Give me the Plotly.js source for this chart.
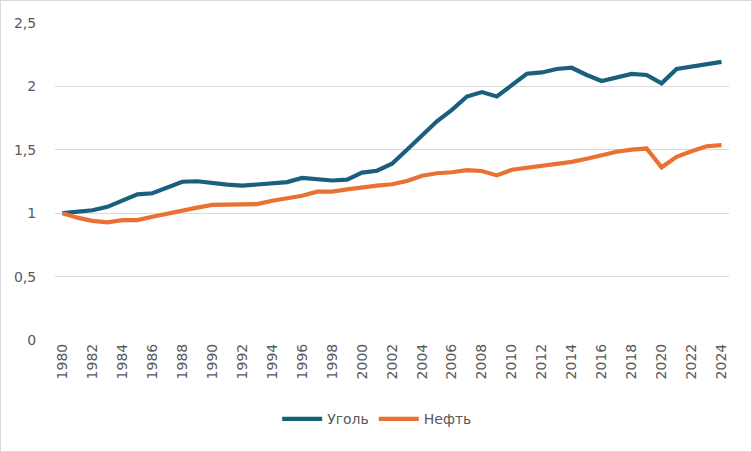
<!DOCTYPE html>
<html>
<head>
<meta charset="utf-8">
<script src="https://cdn.plot.ly/plotly-3.0.1.min.js"></script>
<style>
html,body{margin:0;padding:0;background:#fff;}
#chart{width:750px;height:450px;border:1px solid #d9d9d9;}
</style>
</head>
<body>
<div id="chart"></div>
<script>
const years = [1980,1981,1982,1983,1984,1985,1986,1987,1988,1989,1990,1991,1992,1993,1994,1995,1996,1997,1998,1999,2000,2001,2002,2003,2004,2005,2006,2007,2008,2009,2010,2011,2012,2013,2014,2015,2016,2017,2018,2019,2020,2021,2022,2023,2024];
const coal = [1.0,1.015,1.023,1.05,1.098,1.149,1.157,1.204,1.248,1.252,1.235,1.225,1.217,1.228,1.238,1.245,1.278,1.27,1.258,1.265,1.32,1.335,1.39,1.5,1.61,1.725,1.815,1.92,1.955,1.92,2.01,2.1,2.11,2.137,2.147,2.09,2.043,2.07,2.098,2.09,2.024,2.137,2.155,2.172,2.193];
const oil = [1.0,0.965,0.94,0.928,0.946,0.946,0.972,0.998,1.025,1.044,1.065,1.068,1.07,1.072,1.098,1.115,1.138,1.17,1.17,1.188,1.205,1.218,1.228,1.254,1.295,1.315,1.323,1.34,1.333,1.298,1.343,1.358,1.372,1.388,1.405,1.43,1.46,1.485,1.502,1.51,1.362,1.445,1.488,1.528,1.537];
const seriesNames = ['Уголь','Нефть'];
const tickYears = [1980,1982,1984,1986,1988,1990,1992,1994,1996,1998,2000,2002,2004,2006,2008,2010,2012,2014,2016,2018,2020,2022,2024];
const yTicks = [0,0.5,1,1.5,2,2.5];
const yTickText = ['0','0,5','1','1,5','2','2,5'];

const font = 'DejaVu Sans, Verdana, sans-serif';
const data = [
  {x: years, y: coal, name: seriesNames[0], type: 'scatter', mode: 'lines',
   line: {color: '#1a5f7e', width: 4.2}},
  {x: years, y: oil, name: seriesNames[1], type: 'scatter', mode: 'lines',
   line: {color: '#E97132', width: 4.2}}
];
const layout = {
  width: 750, height: 450,
  margin: {l: 54, r: 22, t: 22, b: 111},
  paper_bgcolor: '#fff', plot_bgcolor: '#fff',
  separators: ', ',
  font: {family: font, size: 14, color: '#595959'},
  showlegend: true,
  legend: {orientation: 'h', x: 0.478, xanchor: 'center', y: -0.25, yanchor: 'middle',
           font: {family: font, size: 14, color: '#595959'}, itemwidth: 40},
  xaxis: {range: [1979.5, 2024.5], tickmode: 'array', tickvals: tickYears,
          ticktext: tickYears.map(String), tickangle: -90, showgrid: false,
          zeroline: false, showline: false, ticks: '', ticklen: 0,
          tickfont: {family: font, size: 14, color: '#595959'}, fixedrange: true},
  yaxis: {range: [0, 2.5], tickmode: 'array', tickvals: yTicks,
          ticktext: yTickText,
          showgrid: true, gridcolor: '#d9d9d9', gridwidth: 1.3, zeroline: false,
          showline: false, ticks: 'outside', ticklen: 15, tickcolor: 'rgba(0,0,0,0)',
          tickfont: {family: font, size: 14, color: '#595959'}, fixedrange: true}
};
Plotly.newPlot('chart', data, layout, {displayModeBar: false, staticPlot: true});
</script>
</body>
</html>
